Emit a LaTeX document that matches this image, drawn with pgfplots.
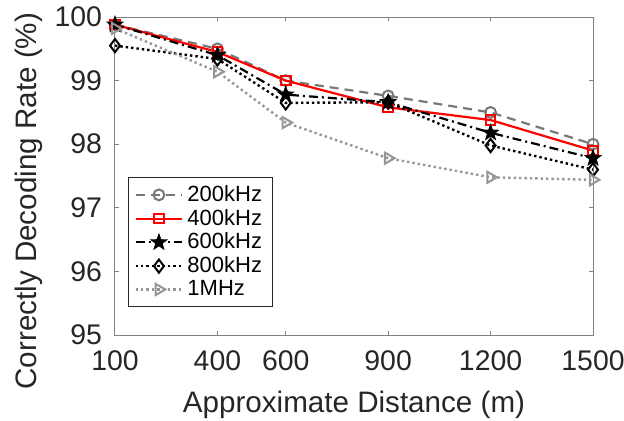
\documentclass[border=0pt]{standalone}
\usepackage{pgfplots}
\pgfplotsset{compat=1.18}
\usepackage{fontspec}
\setmainfont{Liberation Sans}
\usetikzlibrary{plotmarks}
\definecolor{axgray}{RGB}{128,128,128}
\definecolor{txtgray}{RGB}{38,38,38}
\definecolor{lgray}{RGB}{150,150,150}
\definecolor{mgray}{RGB}{120,120,120}
\pgfdeclareplotmark{fstar}{%
  \pgfpathmoveto{\pgfpointpolar{90}{1.35\pgfplotmarksize}}%
  \pgfpathlineto{\pgfpointpolar{126}{0.55\pgfplotmarksize}}%
  \pgfpathlineto{\pgfpointpolar{162}{1.35\pgfplotmarksize}}%
  \pgfpathlineto{\pgfpointpolar{198}{0.55\pgfplotmarksize}}%
  \pgfpathlineto{\pgfpointpolar{234}{1.35\pgfplotmarksize}}%
  \pgfpathlineto{\pgfpointpolar{270}{0.55\pgfplotmarksize}}%
  \pgfpathlineto{\pgfpointpolar{306}{1.35\pgfplotmarksize}}%
  \pgfpathlineto{\pgfpointpolar{342}{0.55\pgfplotmarksize}}%
  \pgfpathlineto{\pgfpointpolar{18}{1.35\pgfplotmarksize}}%
  \pgfpathlineto{\pgfpointpolar{54}{0.55\pgfplotmarksize}}%
  \pgfpathclose\pgfusepathqfillstroke}
\begin{document}
\begin{tikzpicture}
\path[use as bounding box] (-57.5pt,-42.5pt) rectangle (254.5pt,167.5pt);
\begin{axis}[
  at={(0,0)}, anchor=south west,
  scale only axis, width=239pt, height=159pt,
  xmin=100, xmax=1500, ymin=95, ymax=100,
  xtick={100,400,600,900,1200,1500},
  ytick={95,96,97,98,99,100},
  tick align=inside, major tick length=2.2pt,
  axis line style={axgray, line width=0.5pt},
  tick style={axgray, line width=0.5pt},
  every tick label/.append style={font=\fontsize{14.2}{16}\selectfont, text=txtgray},
  xticklabel style={yshift=-4.5pt},
  yticklabel style={xshift=-3pt},
  /pgf/number format/assume math mode=true,
  /pgf/number format/1000 sep={},
  xlabel={Approximate Distance (m)},
  ylabel={Correctly Decoding Rate (\%)},
  label style={font=\fontsize{14.8}{17}\selectfont, text=txtgray},
  xlabel style={yshift=-3.3pt},
  ylabel style={at={(axis description cs:-0.1506,0.421)}, anchor=south, inner sep=0pt, rotate=0},
  legend style={at={(0.027,0.088)}, anchor=south west, draw=txtgray, line width=0.5pt,
     font=\fontsize{11}{12.9}\selectfont, row sep=-1.6pt, inner xsep=3pt, inner ysep=2pt},
  legend cell align=left,
  legend image code/.code={\draw[mark repeat=2,mark phase=2] plot coordinates {(0cm,0cm) (0.41cm,0cm) (0.82cm,0cm)};},
]
\addplot[color=mgray, line width=1.1pt, dash pattern=on 4.5pt off 3pt, mark=o, mark size=2.7pt, mark options={solid, line width=1pt}]
 coordinates {(100,99.88) (400,99.5) (600,99.0) (900,98.76) (1200,98.5) (1500,98.0)};
\addlegendentry{200kHz}
\addplot[color=red, line width=1.1pt, mark=square, mark size=2.4pt, mark options={solid, line width=1pt}]
 coordinates {(100,99.88) (400,99.45) (600,99.0) (900,98.58) (1200,98.38) (1500,97.9)};
\addlegendentry{400kHz}
\addplot[color=black, line width=1.1pt, dash pattern=on 4.5pt off 2pt on 1pt off 2pt, mark=fstar, mark size=3pt, mark options={solid, line width=0.5pt, fill=black}]
 coordinates {(100,99.88) (400,99.4) (600,98.78) (900,98.66) (1200,98.18) (1500,97.78)};
\addlegendentry{600kHz}
\addplot[color=black, line width=1.2pt, dash pattern=on 1.2pt off 1.5pt, mark=diamond, mark size=3.3pt, mark options={solid, line width=1pt}]
 coordinates {(100,99.55) (400,99.34) (600,98.65) (900,98.66) (1200,97.98) (1500,97.6)};
\addlegendentry{800kHz}
\addplot[color=lgray, line width=1.2pt, dash pattern=on 1.2pt off 1.5pt, mark=triangle, mark size=3.2pt, mark options={solid, line width=1pt, rotate=-90}]
 coordinates {(100,99.82) (400,99.14) (600,98.34) (900,97.78) (1200,97.48) (1500,97.44)};
\addlegendentry{1MHz}
\end{axis}
\end{tikzpicture}
\end{document}
